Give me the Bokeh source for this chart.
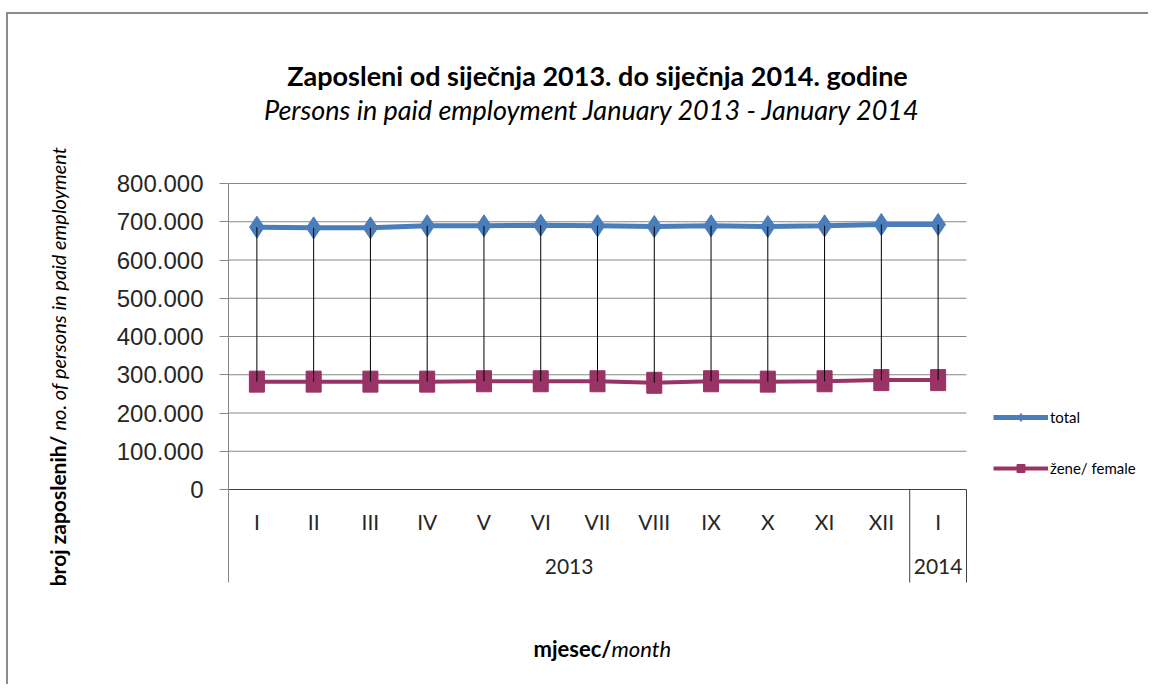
import math
from bokeh.plotting import figure
from bokeh.layouts import row, column
from bokeh.models import Range1d, FixedTicker, Label, Legend, LegendItem, Div, Spacer
from bokeh.core.properties import value
from bokeh.embed import file_html
from bokeh.resources import INLINE

# ---------------- data ----------------
months = ["I", "II", "III", "IV", "V", "VI", "VII", "VIII", "IX", "X", "XI", "XII", "I"]
years = ["2013", "2014"]
year_first = [0, 12]   # index of first month in each year group
year_last = [11, 12]   # index of last month in each year group
total = [685800, 684000, 684000, 689400, 689400, 691000, 689400,
         687600, 689400, 687600, 689400, 692800, 692800]
female = [282000, 282000, 282000, 282000, 283000, 283000, 283000,
          279000, 283000, 282000, 283000, 286000, 286000]
y_ticks = [0, 100000, 200000, 300000, 400000, 500000, 600000, 700000, 800000]

title_main = "Zaposleni od siječnja 2013. do siječnja 2014. godine"
title_sub = "Persons in paid employment January 2013 - January 2014"
ylab_bold = "broj  zaposlenih/"
ylab_ital = " no. of  persons  in paid employment"
xlab_bold = "mjesec/"
xlab_ital = "month"
series_names = ["total", "žene/ female"]

BLUE = "#4A7EBB"
PURPLE = "#993366"
GRID = "#868686"
DARK = "#404040"
TXT = "#262626"
FRAME = "#8c8c8c"
FONT = "Lato"

# ---------------- layout (page pixels) ----------------
BX, BY = 6, 12           # outer chart-border position on page
OX, OY = BX + 2, BY + 2  # canvas origin on page
LW = 100                 # width of the left strip holding the y-axis title
W, H = 1140, 670
F_LEFT, F_RIGHT = 228, 966   # category area
Y0_PX, YTOP_PX = 489, 183     # y=0 and y=800000
AX_BOTTOM_PX = 582

X_PER_PX = len(months) / (F_RIGHT - F_LEFT)
Y_PER_PX = y_ticks[-1] / (Y0_PX - YTOP_PX)

def px2x(px):
    return -0.5 + (px - F_LEFT) * X_PER_PX

def py2y(py):
    return (Y0_PX - py) * Y_PER_PX

idx = list(range(len(months)))

# ---------------- left strip: rotated y-axis title ----------------
pl = figure(width=LW, height=H, x_range=Range1d(0, LW), y_range=Range1d(0, H),
            x_axis_location=None, y_axis_location=None, title=None,
            output_backend="svg", toolbar_location=None,
            min_border_left=0, min_border_right=0, min_border_top=0, min_border_bottom=0)
pl.outline_line_color = None
pl.grid.visible = False
pl.text(x=[57 - OX], y=[H - (430 - OY)], text=[ylab_bold], angle=math.pi / 2,
        text_align="right", text_baseline="middle", text_font=value(FONT),
        text_font_style="bold", text_font_size="21px", text_color="black")
pl.text(x=[57 - OX], y=[H - (430 - OY)], text=[ylab_ital], angle=math.pi / 2,
        text_align="left", text_baseline="middle", text_font=value(FONT),
        text_font_style="italic", text_font_size="20px", text_color="black")

# ---------------- main chart ----------------
MX = OX + LW
p = figure(width=W - LW, height=H, title=None,
           x_range=Range1d(px2x(F_LEFT), px2x(OX + W)),
           y_range=Range1d(py2y(OY + H), py2y(OY)),
           x_axis_location=None, y_axis_location="left",
           output_backend="svg", toolbar_location=None,
           min_border_left=F_LEFT - MX, min_border_right=0,
           min_border_top=0, min_border_bottom=0)
p.outline_line_color = None
p.xgrid.visible = False
p.ygrid.visible = False

# y axis
ax = p.yaxis[0]
ax.ticker = FixedTicker(ticks=y_ticks, minor_ticks=[])
ax.bounds = (py2y(AX_BOTTOM_PX), y_ticks[-1])
ax.major_label_overrides = {t: ("{:,}".format(t).replace(",", ".")) for t in y_ticks}
ax.axis_line_color = GRID
ax.major_tick_line_color = GRID
ax.major_tick_out = 9
ax.major_tick_in = 0
ax.minor_tick_line_color = None
ax.major_label_standoff = 16
ax.major_label_text_font = "Liberation Sans"
ax.major_label_text_font_size = "24px"
ax.major_label_text_color = TXT

# gridlines (only over category area)
gl = y_ticks[1:]
p.segment(x0=[-0.5] * len(gl), y0=gl, x1=[len(months) - 0.5] * len(gl), y1=gl,
          line_color=GRID, line_width=1)
# category axis line and separators
p.segment(x0=[-0.5], y0=[0], x1=[len(months) - 0.5], y1=[0], line_color=DARK, line_width=1)
seps = [b + 0.5 for b in year_last]
p.segment(x0=seps, y0=[0] * len(seps), x1=seps, y1=[py2y(AX_BOTTOM_PX)] * len(seps),
          line_color=DARK, line_width=1)

# series
l_tot = p.line(idx, total, line_color=BLUE, line_width=5)
l_fem = p.line(idx, female, line_color=PURPLE, line_width=4)
s_tot = p.scatter(idx, total, marker="diamond", size=22, fill_color=BLUE, line_color=BLUE)
s_fem = p.scatter(idx, female, marker="square", size=14, fill_color=PURPLE, line_color=PURPLE)
p.rect(idx, female, width=15, height=21, width_units="screen", height_units="screen",
       fill_color=PURPLE, line_color=PURPLE)
# high-low lines
p.segment(x0=idx, y0=female, x1=idx, y1=total, line_color="black", line_width=1)

# category labels
p.text(x=idx, y=[py2y(521)] * len(idx), text=months, text_align="center",
       text_baseline="middle", text_font=value(FONT), text_font_size="21px",
       text_color=TXT)
ycent = [(a + b) / 2 for a, b in zip(year_first, year_last)]
p.text(x=ycent, y=[py2y(566)] * len(ycent), text=years, text_align="center",
       text_baseline="middle", text_font=value(FONT), text_font_size="21px",
       text_color=TXT)

# titles
p.add_layout(Label(x=px2x(597), y=py2y(75), text=title_main, text_align="center",
                   text_baseline="middle", text_font=FONT, text_font_style="bold",
                   text_font_size="27px", text_color="black"))
p.add_layout(Label(x=px2x(592), y=py2y(109), text=title_sub, text_align="center",
                   text_baseline="middle", text_font=FONT, text_font_style="italic",
                   text_font_size="27px", text_color="black"))
# x title
p.add_layout(Label(x=px2x(611), y=py2y(648), text=xlab_bold, text_align="right",
                   text_baseline="middle", text_font=FONT, text_font_style="bold",
                   text_font_size="22px", text_color="black"))
p.add_layout(Label(x=px2x(611), y=py2y(648), text=xlab_ital, text_align="left",
                   text_baseline="middle", text_font=FONT, text_font_style="italic",
                   text_font_size="22px", text_color="black"))

# legend
legend = Legend(items=[LegendItem(label=series_names[0], renderers=[l_tot, s_tot]),
                       LegendItem(label=series_names[1], renderers=[l_fem, s_fem])],
                location=(993 - F_LEFT, (OY + H) - 478),
                glyph_width=55, glyph_height=20, label_height=20, spacing=31,
                padding=0, margin=0, border_line_color=None, background_fill_alpha=0,
                label_standoff=2, label_text_font=FONT, label_text_font_size="15px",
                label_text_color="black")
p.add_layout(legend)

# outer chart border (top and left) as thin filled blocks
top_bar = Div(text="", width=W + 2, height=2, margin=0,
              styles={"background-color": FRAME})
left_bar = Div(text="", width=2, height=H, margin=0,
               styles={"background-color": FRAME})
chart = column(top_bar, row(left_bar, pl, p, spacing=0), spacing=0)
layout = column(Spacer(height=BY, margin=0),
                row(Spacer(width=BX, margin=0), chart, spacing=0), spacing=0)

open("out.html", "w").write(file_html(layout, INLINE))
